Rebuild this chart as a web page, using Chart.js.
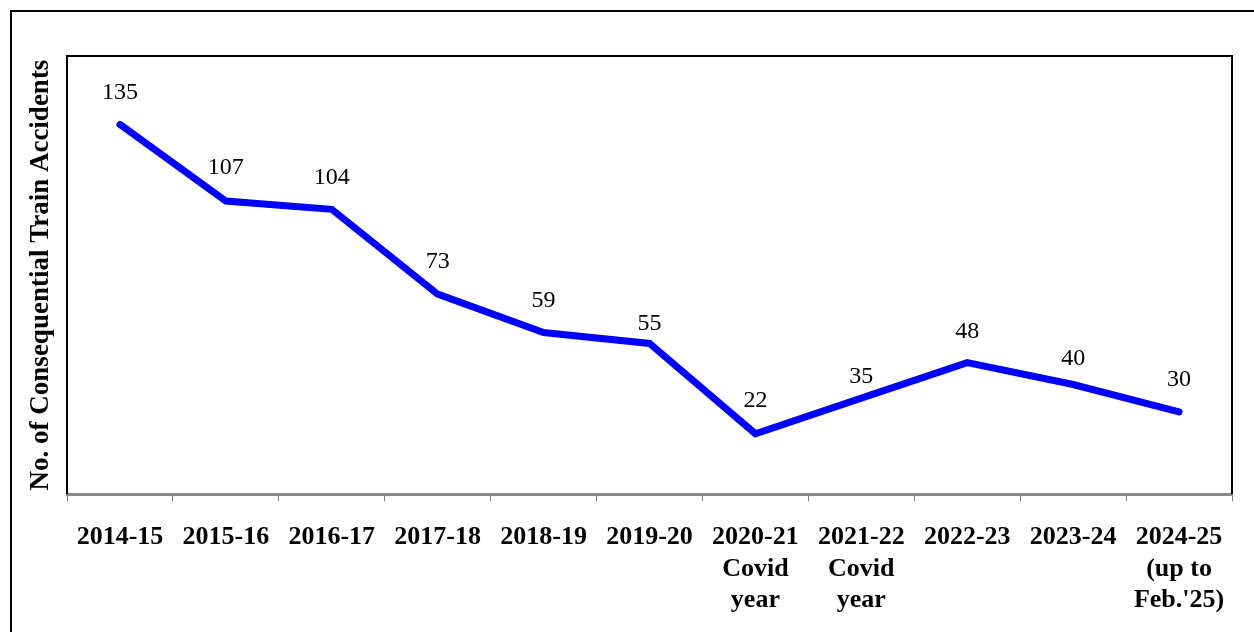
<!DOCTYPE html>
<html>
<head>
<meta charset="utf-8">
<script src="https://cdn.jsdelivr.net/npm/chart.js@4.4.1/dist/chart.umd.min.js"></script>
<style>
  html, body { margin: 0; padding: 0; background: #fff; overflow: hidden; }
  #wrap { position: relative; width: 1254px; height: 632px; }
  #frame { position: absolute; left: 10px; top: 10px; width: 1400px; height: 800px;
           border-left: 2px solid #000; border-top: 2px solid #000; }
  canvas { position: absolute; left: 0; top: 0; }
</style>
</head>
<body>
<div id="wrap">
  <div id="frame"></div>
  <canvas id="c" width="1254" height="632"></canvas>
</div>
<script>
const categories = [
  '2014-15', '2015-16', '2016-17', '2017-18', '2018-19', '2019-20',
  ['2020-21', 'Covid', 'year'], ['2021-22', 'Covid', 'year'],
  '2022-23', '2023-24', ['2024-25', '(up to', "Feb.'25)"]
];
const accidents = [135, 107, 104, 73, 59, 55, 22, 35, 48, 40, 30];
const yAxisTitle = 'No. of Consequential Train Accidents';

const serif = '"Liberation Serif", "Times New Roman", serif';

const labelPlugin = {
  id: 'valueLabels',
  afterDatasetsDraw(chart, args, opts) {
    const ctx = chart.ctx;
    const meta = chart.getDatasetMeta(0);
    ctx.save();
    ctx.font = '24px ' + serif;
    ctx.fillStyle = '#000';
    ctx.textAlign = 'center';
    ctx.textBaseline = 'middle';
    meta.data.forEach((pt, i) => {
      const off = opts.offsets[i];
      ctx.fillText(String(chart.data.datasets[0].data[i]), pt.x, pt.y - off);
    });
    ctx.restore();
  }
};

const framePlugin = {
  id: 'plotFrame',
  afterDraw(chart) {
    const { ctx, chartArea: a } = chart;
    ctx.save();
    ctx.strokeStyle = '#000';
    ctx.lineWidth = 2;
    ctx.beginPath();
    ctx.moveTo(a.left, a.bottom);
    ctx.lineTo(a.left, a.top);
    ctx.lineTo(a.right, a.top);
    ctx.lineTo(a.right, a.bottom);
    ctx.stroke();
    ctx.restore();
  }
};

new Chart(document.getElementById('c'), {
  type: 'line',
  data: {
    labels: categories,
    datasets: [{
      data: accidents,
      borderColor: '#0000FF',
      borderWidth: 7,
      borderCapStyle: 'round',
      borderJoinStyle: 'miter',
      pointRadius: 0,
      tension: 0,
      fill: false
    }]
  },
  options: {
    responsive: false,
    animation: false,
    layout: { padding: { left: 25, top: 56, right: 22, bottom: 0 } },
    plugins: {
      legend: { display: false },
      tooltip: { enabled: false },
      valueLabels: { offsets: [32, 33, 32, 32, 32, 20, 33, 21, 31, 26, 32] }
    },
    scales: {
      x: {
        offset: true,
        afterFit: s => { s.height = 138; },
        grid: {
          offset: true,
          drawOnChartArea: false,
          drawTicks: true,
          tickLength: 7,
          color: '#777',
          lineWidth: 1
        },
        border: { display: true, color: '#888', width: 3 },
        ticks: {
          color: '#000',
          font: { family: serif, size: 26, weight: 'bold', lineHeight: 1.2 },
          padding: 21,
          maxRotation: 0,
          autoSkip: false
        }
      },
      y: {
        min: 0,
        max: 160,
        afterFit: s => { s.width = 42; },
        grid: { display: false, drawTicks: false },
        border: { display: false },
        ticks: { display: false },
        title: {
          display: true,
          text: yAxisTitle,
          color: '#000',
          font: { family: serif, size: 27, weight: 'bold', lineHeight: 1.2 },
          padding: { top: 0, bottom: 0 }
        }
      }
    }
  },
  plugins: [labelPlugin, framePlugin]
});
</script>
</body>
</html>
